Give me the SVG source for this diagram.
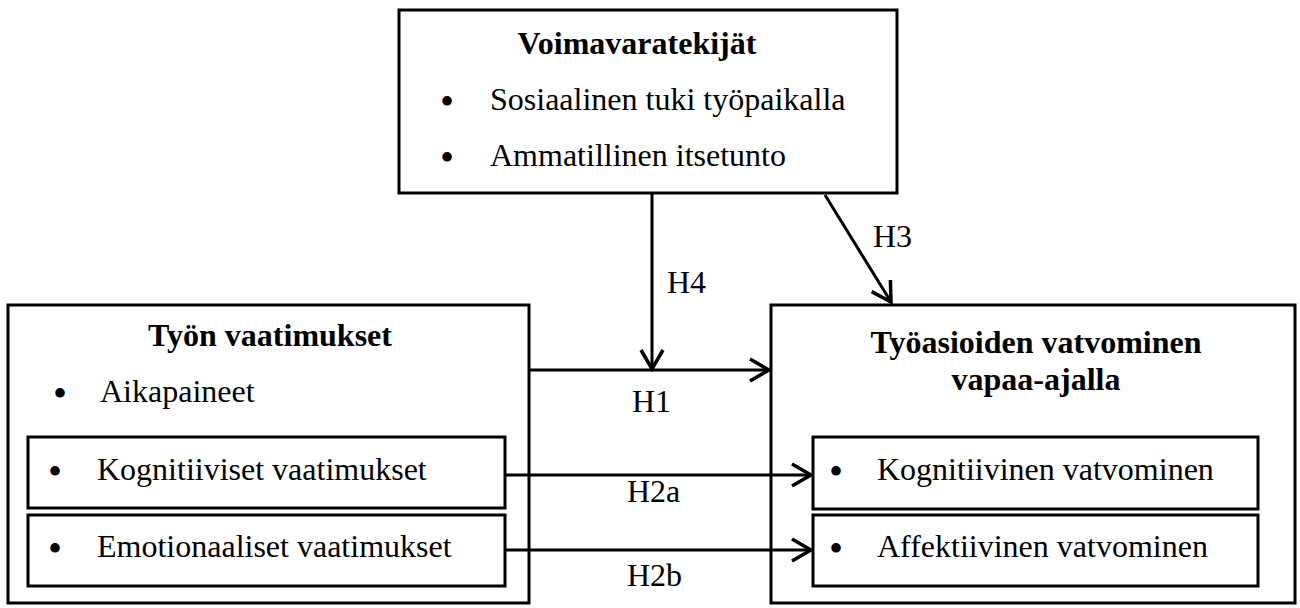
<svg xmlns="http://www.w3.org/2000/svg" width="1300" height="608" viewBox="0 0 1300 608">
<style>
.box{fill:#fff;stroke:#000;stroke-width:3}
.t{font-family:"Liberation Serif","Times New Roman",serif;font-size:32px;fill:#000}
.b{font-weight:bold}
.bl{font-family:"Liberation Serif","Times New Roman",serif;font-size:40px;fill:#000}
.c{stroke:#000;stroke-width:3;fill:none}
</style>
<defs>
<marker id="ah" viewBox="0 0 24 26" refX="21" refY="13" markerWidth="24" markerHeight="26" markerUnits="userSpaceOnUse" orient="auto">
<path d="M2,2 L21,13 L2,24" fill="none" stroke="#000" stroke-width="3.5"/>
</marker>
</defs>
<rect width="1300" height="608" fill="#fff"/>
<g id="resources">
<rect class="box" x="399" y="10" width="498" height="183"/>
<text class="t b" x="637" y="54" text-anchor="middle">Voimavaratekijät</text>
<text class="bl" x="440" y="115">•</text>
<text class="t" x="490" y="110">Sosiaalinen tuki työpaikalla</text>
<text class="bl" x="440" y="171">•</text>
<text class="t" x="490" y="166">Ammatillinen itsetunto</text>
</g>
<g id="demands">
<rect class="box" x="8" y="305" width="521" height="298"/>
<text class="t b" x="270" y="346" text-anchor="middle">Työn vaatimukset</text>
<text class="bl" x="53" y="407">•</text>
<text class="t" x="100" y="402">Aikapaineet</text>
</g>
<g id="cognitive-demands">
<rect class="box" x="28" y="437" width="477" height="71"/>
<text class="bl" x="48" y="485">•</text>
<text class="t" x="97" y="480">Kognitiiviset vaatimukset</text>
</g>
<g id="emotional-demands">
<rect class="box" x="28" y="515" width="477" height="71"/>
<text class="bl" x="48" y="562">•</text>
<text class="t" x="97" y="557">Emotionaaliset vaatimukset</text>
</g>
<g id="rumination">
<rect class="box" x="771" y="305" width="524" height="298"/>
<text class="t b" x="1036" y="353" text-anchor="middle">Työasioiden vatvominen</text>
<text class="t b" x="1036" y="390" text-anchor="middle">vapaa-ajalla</text>
</g>
<g id="cognitive-rumination">
<rect class="box" x="813" y="437" width="445" height="72"/>
<text class="bl" x="829" y="485">•</text>
<text class="t" x="877" y="480">Kognitiivinen vatvominen</text>
</g>
<g id="affective-rumination">
<rect class="box" x="813" y="515" width="445" height="71"/>
<text class="bl" x="829" y="562">•</text>
<text class="t" x="877" y="557">Affektiivinen vatvominen</text>
</g>
<g id="connectors">
<line class="c" x1="529" y1="370" x2="769" y2="370" marker-end="url(#ah)"/>
<line class="c" x1="652" y1="193" x2="652" y2="369" marker-end="url(#ah)"/>
<line class="c" x1="825" y1="195" x2="891" y2="302" marker-end="url(#ah)"/>
<line class="c" x1="505" y1="475" x2="811" y2="475" marker-end="url(#ah)"/>
<line class="c" x1="505" y1="550" x2="811" y2="550" marker-end="url(#ah)"/>
<text class="t" x="667" y="293">H4</text>
<text class="t" x="873" y="247">H3</text>
<text class="t" x="632" y="412">H1</text>
<text class="t" x="627" y="502">H2a</text>
<text class="t" x="627" y="586">H2b</text>
</g>
</svg>
